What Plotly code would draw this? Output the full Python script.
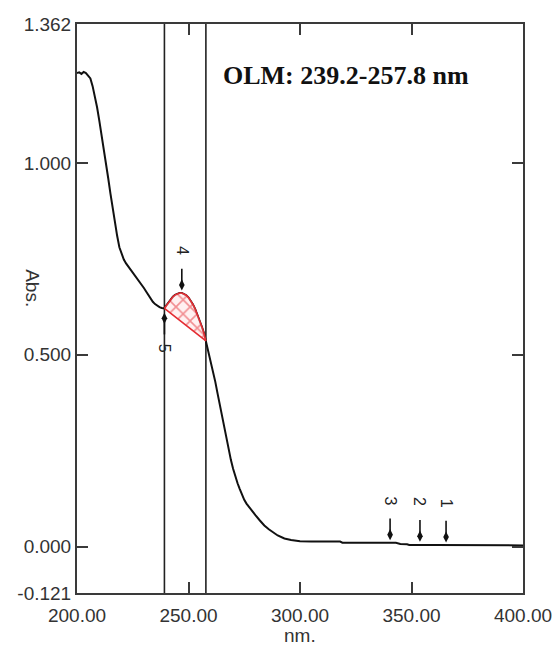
import plotly.graph_objects as go

# Absorption spectrum (wavelength in nm, absorbance)
wavelength = [200, 201, 202, 203, 204, 205, 206, 207, 208, 209, 210, 211, 212, 213, 214,
              215, 216, 217, 218, 219, 220, 221, 222, 223, 224, 225, 226, 227, 228, 229,
              230, 231, 232, 233, 234, 235, 236, 237, 238, 239.2,
              240, 241, 242, 243, 244, 245, 246, 247, 248, 249, 250, 251, 252, 253, 254,
              255, 256, 257, 257.8,
              258, 259, 260, 261, 262, 263, 264, 265, 266, 267, 268, 269, 270, 271, 272,
              273, 274, 275, 276, 277, 278, 279, 280, 282, 284, 286, 288, 290, 293, 296,
              300, 305, 318, 319, 343, 345, 348, 349, 360, 380, 400]
absorbance = [1.234, 1.236, 1.232, 1.237, 1.234, 1.228, 1.220, 1.200, 1.175, 1.145, 1.110,
              1.075, 1.040, 1.000, 0.960, 0.920, 0.880, 0.845, 0.810, 0.780, 0.762, 0.748,
              0.738, 0.730, 0.722, 0.715, 0.708, 0.701, 0.693, 0.684, 0.674, 0.665, 0.655,
              0.646, 0.638, 0.632, 0.627, 0.624, 0.622, 0.621,
              0.628, 0.636, 0.644, 0.651, 0.656, 0.659, 0.661, 0.661, 0.659, 0.655, 0.649,
              0.641, 0.631, 0.619, 0.605, 0.590, 0.573, 0.555, 0.536,
              0.530, 0.508, 0.484, 0.458, 0.430, 0.400, 0.370, 0.340, 0.310, 0.280, 0.250,
              0.226, 0.203, 0.182, 0.165, 0.150, 0.135, 0.122, 0.112, 0.104, 0.096, 0.089,
              0.082, 0.068, 0.055, 0.045, 0.036, 0.029, 0.021, 0.017, 0.014, 0.013, 0.013,
              0.010, 0.010, 0.007, 0.006, 0.004, 0.004, 0.003, 0.003]

# Integration window
window_start = 239.2
window_end = 257.8
window_title = "OLM: 239.2-257.8 nm"

# Picked peaks and valleys
peak_labels = ["1", "2", "3", "4"]
peak_nm = [365.5, 353.8, 340.4, 247.0]
peak_abs = [0.004, 0.006, 0.010, 0.661]
valley_labels = ["5"]
valley_nm = [239.2]
valley_abs = [0.621]

x_ticks = [200, 250, 300, 350, 400]
x_ticktext = ["200.00", "250.00", "300.00", "350.00", "400.00"]
y_ticks = [-0.121, 0.0, 0.5, 1.0, 1.362]
y_ticktext = ["-0.121", "0.000", "0.500", "1.000", "1.362"]
x_range = [200, 400]
y_range = [-0.121, 1.362]

AXIS = "#3a3a3a"
TICKFONT = dict(family="Liberation Sans, Arial", size=19, color="#333333")
HATCH = "#e42c32"

fig = go.Figure()

# Window boundaries
for w in (window_start, window_end):
    fig.add_trace(go.Scatter(
        x=[w, w], y=y_range, mode="lines",
        line=dict(color="#222222", width=1.6),
        hoverinfo="skip", showlegend=False,
    ))

# Spectrum
fig.add_trace(go.Scatter(
    x=wavelength, y=absorbance, mode="lines",
    line=dict(color="#111111", width=2),
    showlegend=False,
))

# Hatched area between the spectrum and the chord across the window
seg_x = [w for w in wavelength if window_start <= w <= window_end]
seg_y = [a for w, a in zip(wavelength, absorbance) if window_start <= w <= window_end]
fig.add_trace(go.Scatter(
    x=seg_x + [seg_x[0]], y=seg_y + [seg_y[0]],
    mode="lines", fill="toself",
    line=dict(color=HATCH, width=1.6),
    fillcolor="rgba(255,215,215,0.5)",
    fillpattern=dict(shape="x", fgcolor=HATCH, bgcolor="rgba(255,232,232,0.6)",
                     size=10, solidity=0.3),
    hoverinfo="skip", showlegend=False,
))

# Peak arrows (from above) and valley arrows (from below)
tip_gap = 0.021
stem = 0.042
label_gap = 0.089
arrow_x, arrow_y, dot_x, dot_y = [], [], [], []
for nm, ab in zip(peak_nm, peak_abs):
    tip = ab + tip_gap
    arrow_x += [nm, nm, None]
    arrow_y += [tip + stem, tip, None]
    dot_x.append(nm)
    dot_y.append(tip)
for nm, ab in zip(valley_nm, valley_abs):
    tip = ab - 0.026
    arrow_x += [nm, nm, None]
    arrow_y += [tip - stem, tip, None]
    dot_x.append(nm)
    dot_y.append(tip)
fig.add_trace(go.Scatter(x=arrow_x, y=arrow_y, mode="lines",
                         line=dict(color="#111111", width=1.6),
                         hoverinfo="skip", showlegend=False))
fig.add_trace(go.Scatter(x=dot_x, y=dot_y, mode="markers",
                         marker=dict(symbol="diamond-tall", size=8, color="#111111"),
                         hoverinfo="skip", showlegend=False))

LABELFONT = dict(family="Liberation Sans, Arial", size=16, color="#222222")
for lab, nm, ab in zip(peak_labels, peak_nm, peak_abs):
    fig.add_annotation(x=nm, y=ab + tip_gap + label_gap, text=lab, textangle=90,
                       showarrow=False, font=LABELFONT,
                       xanchor="center", yanchor="middle")
for lab, nm, ab in zip(valley_labels, valley_nm, valley_abs):
    fig.add_annotation(x=nm, y=ab - 0.026 - 0.078, text=lab, textangle=90,
                       showarrow=False, font=LABELFONT,
                       xanchor="center", yanchor="middle")

# Window caption
fig.add_annotation(xref="paper", yref="paper", x=0.603, y=0.91,
                   text="<b>" + window_title + "</b>",
                   showarrow=False, xanchor="center", yanchor="middle",
                   font=dict(family="Liberation Serif, Times New Roman", size=26,
                             color="#111111"))

# Axis titles
fig.add_annotation(xref="paper", yref="paper", x=0.5, y=-0.075, text="nm.",
                   showarrow=False, xanchor="center", yanchor="middle", font=TICKFONT)
fig.add_annotation(xref="paper", yref="paper", x=-0.1, y=0.535, text="Abs.",
                   textangle=90, showarrow=False, xanchor="center", yanchor="middle",
                   font=TICKFONT)

fig.update_xaxes(range=x_range, tickvals=x_ticks, ticktext=x_ticktext,
                 ticks="inside", ticklen=11, tickwidth=1.5, tickcolor=AXIS,
                 showline=True, linecolor=AXIS, linewidth=2, mirror="ticks",
                 showgrid=False, zeroline=False, tickfont=TICKFONT,
                 ticklabelstandoff=4, automargin=False)
fig.update_yaxes(range=y_range, tickvals=y_ticks, ticktext=y_ticktext,
                 ticks="inside", ticklen=11, tickwidth=1.5, tickcolor=AXIS,
                 showline=True, linecolor=AXIS, linewidth=2, mirror="ticks",
                 showgrid=False, zeroline=False, tickfont=TICKFONT,
                 ticklabelstandoff=0, automargin=False)

fig.update_layout(
    width=555, height=653,
    margin=dict(l=77, r=32, t=24, b=60),
    paper_bgcolor="white", plot_bgcolor="white",
    showlegend=False,
)

fig.write_html("out.html")
